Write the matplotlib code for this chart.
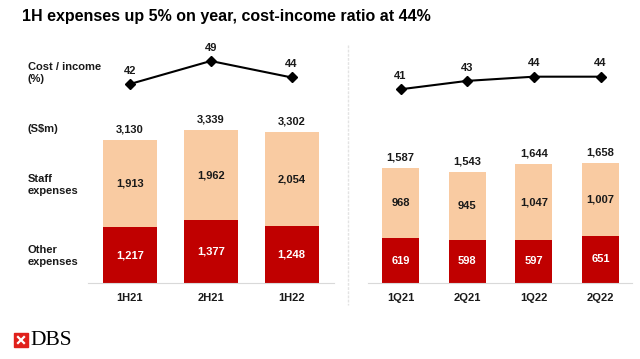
import matplotlib
matplotlib.use("Agg")
import matplotlib.pyplot as plt
from matplotlib.patches import Rectangle
from matplotlib.lines import Line2D
from matplotlib import font_manager

# ---- data ----
half_labels = ["1H21", "2H21", "1H22"]
half_staff = [1913, 1962, 2054]
half_other = [1217, 1377, 1248]
half_total = [3130, 3339, 3302]
half_ci = [42, 49, 44]

q_labels = ["1Q21", "2Q21", "1Q22", "2Q22"]
q_staff = [968, 945, 1047, 1007]
q_other = [619, 598, 597, 651]
q_total = [1587, 1543, 1644, 1658]
q_ci = [41, 43, 44, 44]

PEACH = "#F9CBA2"
RED = "#C00000"
FONT = "Liberation Sans"
names = {f.name for f in font_manager.fontManager.ttflist}
TITLE_FONT = "Liberation Sans Narrow" if "Liberation Sans Narrow" in names else FONT
TITLE_SIZE = 14 if TITLE_FONT != FONT else 11.5

W, H = 640, 359
fig = plt.figure(figsize=(6.4, 3.59), dpi=100)
fig.patch.set_facecolor("white")


def ax_px(x0, y0, x1, y1):
    return fig.add_axes([x0 / W, 1 - y1 / H, (x1 - x0) / W, (y1 - y0) / H])


def bars(ax, labels, staff, other, total, width, xlim, ylim):
    x = list(range(len(labels)))
    ax.bar(x, other, width=width, color=RED, zorder=2)
    ax.bar(x, staff, width=width, bottom=other, color=PEACH, zorder=2)
    for i in x:
        ax.text(i, other[i] / 2, f"{other[i]:,}", ha="center", va="center",
                color="white", fontsize=8, fontweight="bold", family=FONT)
        ax.text(i, other[i] + staff[i] / 2, f"{staff[i]:,}", ha="center", va="center",
                color="#1a1a1a", fontsize=8, fontweight="bold", family=FONT)
        ax.annotate(f"{total[i]:,}", (i, total[i]), xytext=(0, 4), textcoords="offset points",
                    ha="center", va="bottom", color="#1a1a1a", fontsize=8,
                    fontweight="bold", family=FONT)
    ax.set_xlim(*xlim)
    ax.set_ylim(*ylim)
    for s in ["top", "right", "left"]:
        ax.spines[s].set_visible(False)
    ax.spines["bottom"].set_color("#d9d9d9")
    ax.spines["bottom"].set_linewidth(0.8)
    ax.set_yticks([])
    ax.set_xticks(x)
    ax.set_xticklabels(labels, fontsize=8, fontweight="bold", family=FONT, color="#1a1a1a")
    ax.tick_params(axis="x", length=0, pad=7)
    ax.patch.set_alpha(0)


def line(ax, ci, xlim, ylim):
    x = list(range(len(ci)))
    ax.plot(x, ci, color="black", lw=1.5, marker="D", ms=5, zorder=3)
    for i in x:
        ax.annotate(f"{ci[i]}", (i, ci[i]), xytext=(0, 6), textcoords="offset points",
                    ha="center", va="bottom", fontsize=8, fontweight="bold",
                    family=FONT, color="#1a1a1a")
    ax.set_xlim(*xlim)
    ax.set_ylim(*ylim)
    ax.axis("off")


# left panel
axL = ax_px(88, 120, 334, 283)
bars(axL, half_labels, half_staff, half_other, half_total, 0.669, (-0.52, 2.526), (0, 3568))
axLl = ax_px(88, 50, 334, 100)
line(axLl, half_ci, (-0.52, 2.526), (37.14, 52.34))

# right panel
axR = ax_px(368, 120, 632, 283)
bars(axR, q_labels, q_staff, q_other, q_total, 0.555, (-0.4875, 3.4725), (0, 2257))
axRl = ax_px(368, 50, 632, 100)
line(axRl, q_ci, (-0.4875, 3.4725), (38.45, 50.35))

# divider
fig.add_artist(Line2D([348 / W, 348 / W], [1 - 45 / H, 1 - 305 / H], color="#e3e3e3",
                      lw=1.0, ls=(0, (2, 1))))

def rowlab(y, s):
    fig.text(28 / W, 1 - y / H, s, ha="left", va="center", fontsize=8,
             fontweight="bold", family=FONT, color="#1a1a1a", linespacing=1.3)

rowlab(73, "Cost / income\n(%)")
rowlab(129, "(S$m)")
rowlab(185, "Staff\nexpenses")
rowlab(256, "Other\nexpenses")

# title
fig.text(22 / W, 1 - 17 / H, "1H expenses up 5% on year, cost-income ratio at 44%",
         ha="left", va="center", fontsize=TITLE_SIZE, fontweight="bold", family=TITLE_FONT,
         color="black")

# DBS logo
lx0, ly0, sz = 14, 333, 14
fig.add_artist(Rectangle((lx0 / W, 1 - (ly0 + sz) / H), sz / W, sz / H,
                         color="#E0201B", transform=fig.transFigure))
fig.add_artist(Line2D([(lx0 + 4) / W, (lx0 + sz - 4) / W],
                      [1 - (ly0 + 4) / H, 1 - (ly0 + sz - 4) / H], color="white", lw=1.6))
fig.add_artist(Line2D([(lx0 + 4) / W, (lx0 + sz - 4) / W],
                      [1 - (ly0 + sz - 4) / H, 1 - (ly0 + 4) / H], color="white", lw=1.6))
fig.text(30 / W, 1 - 340.5 / H, "DBS", ha="left", va="center", fontsize=15.5,
         family="Liberation Serif", color="black")

fig.savefig("out.png", dpi=100)
